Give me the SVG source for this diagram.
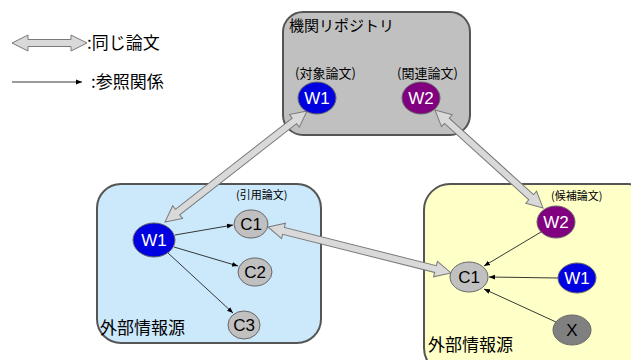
<svg xmlns="http://www.w3.org/2000/svg" width="631" height="360" viewBox="0 0 631 360">
<defs>
<marker id="ah" viewBox="0 0 10 10" refX="10" refY="5" markerWidth="6" markerHeight="6" orient="auto" markerUnits="userSpaceOnUse">
<path d="M0,1 L10,5 L0,9 z" fill="#000"/>
</marker>
<style>
text{font-family:"Liberation Sans","Noto Sans CJK JP",sans-serif;}
.jp{font-family:"Noto Sans CJK JP","Liberation Sans",sans-serif;fill:#000;}
.box{stroke:#555;stroke-width:2;}
.dbl{fill:#d9d9d9;stroke:#7a7a7a;stroke-width:1;}
.ref{stroke:#222;stroke-width:0.9;fill:none;marker-end:url(#ah);}
.nl{font-size:17px;text-anchor:middle;}
.w{fill:#fff;}
.b{fill:#000;}
.node{stroke:#666;stroke-width:1;}
</style>
</defs>
<rect width="631" height="360" fill="#fff"/>

<!-- legend -->
<g id="legend">
<path class="dbl" transform="translate(12,43)" d="M0,0 L16,-8 L16,-3.5 L59,-3.5 L59,-8 L75,0 L59,8 L59,3.5 L16,3.5 L16,8 z"/>
<text class="jp" x="87" y="49" font-size="17">:同じ論文</text>
<line class="ref" x1="12" y1="82" x2="82" y2="82"/>
<text class="jp" x="91" y="88" font-size="17">:参照関係</text>
</g>

<!-- boxes -->
<g id="repo">
<rect class="box" x="283" y="12" width="187" height="123" rx="20" fill="#c0c0c0"/>
<text class="jp" x="289" y="31" font-size="15">機関リポジトリ</text>
<text class="jp" x="295" y="78" font-size="13">(対象論文)</text>
<text class="jp" x="397" y="78" font-size="13">(関連論文)</text>
</g>
<g id="ext1">
<rect class="box" x="97" y="184" width="224" height="159" rx="24" fill="#cce9fb"/>
<text class="jp" x="100" y="334" font-size="17">外部情報源</text>
<text class="jp" x="236" y="199" font-size="11">(引用論文)</text>
</g>
<g id="ext2">
<rect class="box" x="424" y="184" width="230" height="190" rx="26" fill="#ffffc8"/>
<text class="jp" x="428" y="351" font-size="17">外部情報源</text>
<text class="jp" x="551" y="200" font-size="11">(候補論文)</text>
</g>

<!-- connectors -->
<g id="connectors">
<path class="dbl" transform="translate(307,111) rotate(142)" d="M0,0 L16,-8 L16,-3.5 L164.2,-3.5 L164.2,-8 L180.2,0 L164.2,8 L164.2,3.5 L16,3.5 L16,8 z"/>
<path class="dbl" transform="translate(435,110) rotate(42.2)" d="M0,0 L16,-8 L16,-3.5 L129.8,-3.5 L129.8,-8 L145.8,0 L129.8,8 L129.8,3.5 L16,3.5 L16,8 z"/>
<path class="dbl" transform="translate(268,227) rotate(14.1)" d="M0,0 L16,-8 L16,-3.5 L172.7,-3.5 L172.7,-8 L188.7,0 L172.7,8 L172.7,3.5 L16,3.5 L16,8 z"/>
<line class="ref" x1="175" y1="235" x2="233" y2="225"/>
<line class="ref" x1="174" y1="247" x2="238" y2="266"/>
<line class="ref" x1="168" y1="253" x2="233" y2="313"/>
<line class="ref" x1="541" y1="232" x2="484" y2="266"/>
<line class="ref" x1="558" y1="278" x2="489" y2="277"/>
<line class="ref" x1="556" y1="322" x2="484" y2="289"/>
</g>

<!-- nodes -->
<g id="repoW1"><ellipse class="node" cx="317" cy="98" rx="19" ry="16" fill="#0000e0"/><text class="nl w" x="317" y="104">W1</text></g>
<g id="repoW2"><ellipse class="node" cx="421" cy="98" rx="19" ry="16" fill="#800080"/><text class="nl w" x="421" y="104">W2</text></g>
<g id="e1W1"><ellipse class="node" cx="154" cy="240" rx="21" ry="17" fill="#0000e0"/><text class="nl w" x="154" y="246">W1</text></g>
<g id="e1C1"><ellipse class="node" cx="251" cy="224" rx="17" ry="14" fill="#c0c0c0"/><text class="nl b" x="251" y="230">C1</text></g>
<g id="e1C2"><ellipse class="node" cx="255" cy="272" rx="17" ry="14" fill="#c0c0c0"/><text class="nl b" x="255" y="278">C2</text></g>
<g id="e1C3"><ellipse class="node" cx="244" cy="325" rx="16" ry="14" fill="#c0c0c0"/><text class="nl b" x="244" y="331">C3</text></g>
<g id="e2W2"><ellipse class="node" cx="556" cy="222" rx="19" ry="16" fill="#800080"/><text class="nl w" x="556" y="228">W2</text></g>
<g id="e2C1"><ellipse class="node" cx="469" cy="277" rx="19" ry="15" fill="#c0c0c0"/><text class="nl b" x="469" y="283">C1</text></g>
<g id="e2W1"><ellipse class="node" cx="577" cy="278" rx="19" ry="15" fill="#0000e0"/><text class="nl w" x="577" y="284">W1</text></g>
<g id="e2X"><ellipse class="node" cx="572" cy="330" rx="19" ry="15" fill="#808080"/><text class="nl b" x="572" y="336">X</text></g>
</svg>
